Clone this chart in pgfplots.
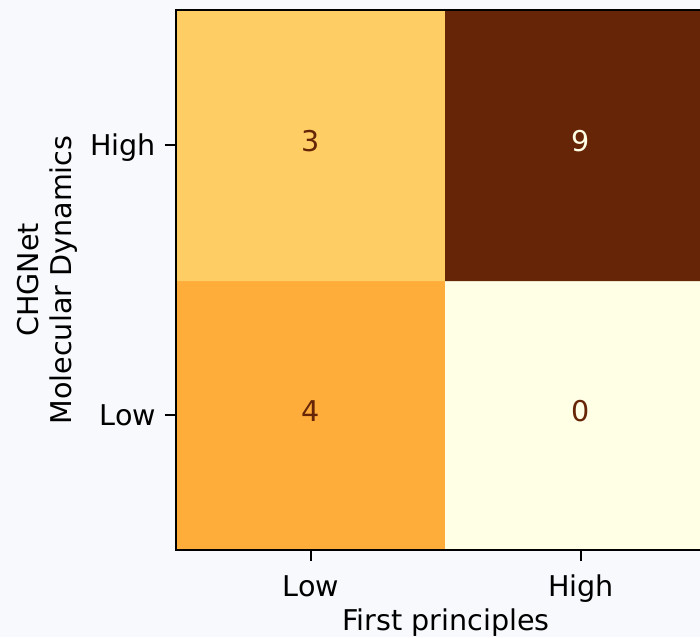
\documentclass[border=0pt]{standalone}
\usepackage{fontspec}
\setmainfont{DejaVu Sans}
\usepackage{pgfplots}
\pgfplotsset{compat=1.18}

\definecolor{bgpanel}{RGB}{248,249,253}
\definecolor{annodark}{RGB}{102,37,6}
\definecolor{annolight}{RGB}{255,255,229}

\newcommand{\chartfont}{\fontsize{14.3}{16.25}\selectfont}

\begin{document}
\begin{tikzpicture}
% visible area of the figure
\path[use as bounding box, clip] (-88pt,-43.5pt) rectangle (262pt,275pt);
\fill[bgpanel] (-88pt,-43.5pt) rectangle (262pt,275pt);
\begin{axis}[
  at={(0,0)}, anchor=south west,
  width=270pt, height=270pt, scale only axis,
  axis on top,
  xmin=-0.5, xmax=1.5, ymin=-0.5, ymax=1.5,
  xtick={0,1}, ytick={0,1},
  xticklabels={Low,High}, yticklabels={Low,High},
  xtick pos=bottom, ytick pos=left,
  tick align=outside, major tick length=5.5pt,
  tick style={black, line width=1pt},
  line width=1pt,
  axis line style={black, line width=1pt},
  tick label style={font=\chartfont, text=black},
  xticklabel style={anchor=base, inner sep=0pt, yshift=-17.5pt},
  yticklabel style={anchor=base east, inner sep=0pt, xshift=-4pt, yshift=-5.2pt},
  xlabel={First principles},
  ylabel={CHGNet\\Molecular Dynamics},
  xlabel style={font=\chartfont, at={(axis description cs:0.5,-0.149)}, anchor=base, inner sep=0pt},
  ylabel style={font=\chartfont, align=center, at={(axis description cs:-0.295,0.5)}, anchor=north, inner sep=0pt},
  colormap={ylorbr}{rgb255=(255,255,229) rgb255=(255,247,188) rgb255=(254,227,145)
    rgb255=(254,196,79) rgb255=(254,153,41) rgb255=(236,112,20) rgb255=(204,76,2)
    rgb255=(153,52,4) rgb255=(102,37,6)},
  point meta min=0, point meta max=9,
]
% confusion matrix cells
\addplot[matrix plot*, mesh/cols=2, mesh/rows=2, point meta=explicit] table[meta=c] {
x y c
0 0 4
1 0 0
0 1 3
1 1 9
};
% counts on light cells
\addplot[draw=none, mark=none, point meta=explicit symbolic, nodes near coords,
  nodes near coords style={anchor=center, yshift=2pt, font=\chartfont, text=annodark}]
  table[meta=c] {
x y c
0 0 4
1 0 0
0 1 3
};
% counts on dark cells
\addplot[draw=none, mark=none, point meta=explicit symbolic, nodes near coords,
  nodes near coords style={anchor=center, yshift=2pt, font=\chartfont, text=annolight}]
  table[meta=c] {
x y c
1 1 9
};
\end{axis}
\end{tikzpicture}
\end{document}
